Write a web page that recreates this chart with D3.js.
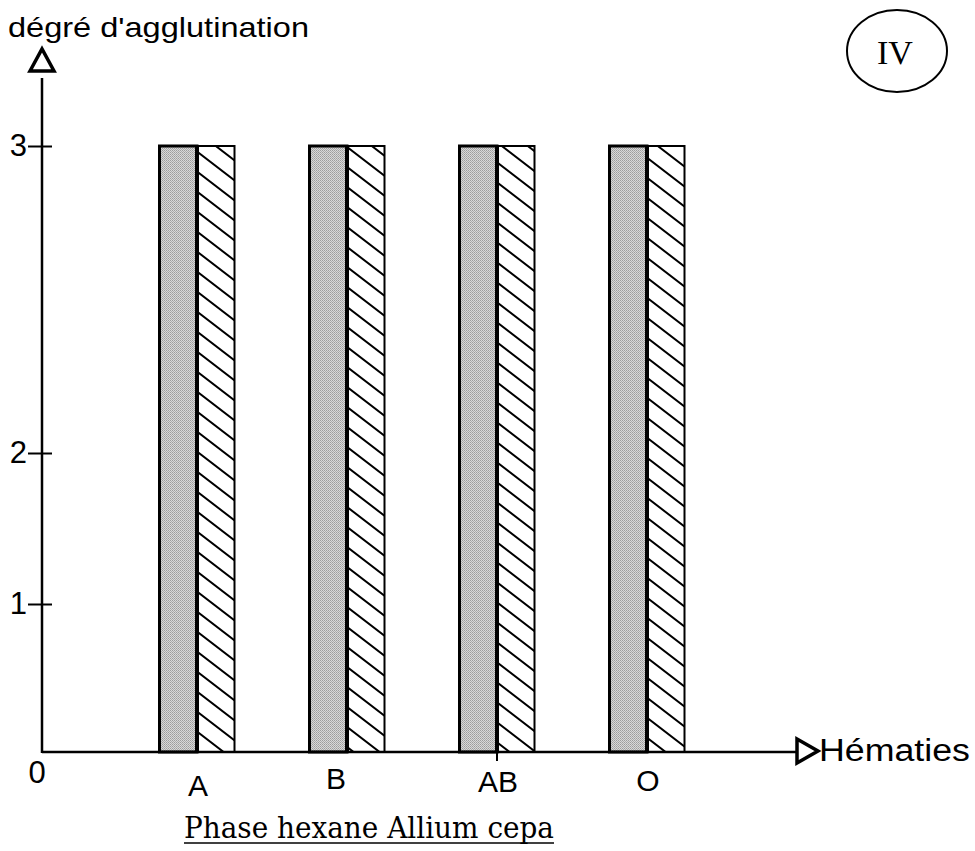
<!DOCTYPE html>
<html><head><meta charset="utf-8">
<script src="https://cdn.jsdelivr.net/npm/d3@7"></script>
<style>html,body{margin:0;padding:0;background:#fff;}svg{display:block;}</style>
</head><body>
<script>
const categories = ["A", "B", "AB", "O"];
const grayValues = [3, 3, 3, 3];
const hatchedValues = [3, 3, 3, 3];
const yTicks = [1, 2, 3];
const yAxisTitle = "dégré d'agglutination";
const xAxisTitle = "Hématies";
const chartTitle = "Phase hexane Allium cepa";
const panelLabel = "IV";

const W = 975, H = 851;
const svg = d3.select("body").append("svg").attr("width", W).attr("height", H);
const defs = svg.append("defs");

// stipple gray
const pg = defs.append("pattern").attr("id", "stipple").attr("patternUnits", "userSpaceOnUse")
  .attr("width", 2).attr("height", 2);
pg.append("rect").attr("width", 2).attr("height", 2).attr("fill", "#d8d8d8");
pg.append("rect").attr("width", 1).attr("height", 1).attr("fill", "#9c9c9c");
pg.append("rect").attr("x", 1).attr("y", 1).attr("width", 1).attr("height", 1).attr("fill", "#acacac");

// diagonal hatch (down-right lines, vertical spacing 20)
const hw = 26, hh = 20;
const ph = defs.append("pattern").attr("id", "hatch").attr("patternUnits", "userSpaceOnUse")
  .attr("width", hw).attr("height", hh);
ph.append("rect").attr("width", hw).attr("height", hh).attr("fill", "#fff");
ph.append("path")
  .attr("d", `M-6,${-6 * hh / hw} L${hw + 6},${hh + 6 * hh / hw} M${hw - 6},${-6 * hh / hw} L${hw + 6},${6 * hh / hw} M-6,${hh - 6 * hh / hw} L6,${hh + 6 * hh / hw}`)
  .attr("stroke", "#000").attr("stroke-width", 2).attr("fill", "none");

const x0 = 42, yBase = 752;
const x = d3.scaleBand().domain(categories).range([122, 722]).paddingInner(0.5).paddingOuter(0.25);
const xs = d3.scaleBand().domain(["gray", "hatched"]).range([0, x.bandwidth()]);
const y = d3.scaleLinear().domain([0, 1, 2, 3]).range([yBase, 604, 453, 146]);

const sans = "'Liberation Sans', Arial, Helvetica, sans-serif";
const serif = "'DejaVu Serif', 'Liberation Serif', serif";

// bars
const g = svg.append("g");
categories.forEach((c, i) => {
  g.append("rect").attr("x", x(c) + xs("gray")).attr("y", y(grayValues[i]))
    .attr("width", xs.bandwidth()).attr("height", y(0) - y(grayValues[i]))
    .attr("fill", "url(#stipple)").attr("stroke", "#000").attr("stroke-width", 3);
  g.append("rect").attr("x", x(c) + xs("hatched")).attr("y", y(hatchedValues[i]))
    .attr("width", xs.bandwidth()).attr("height", y(0) - y(hatchedValues[i]))
    .attr("fill", "url(#hatch)").attr("stroke", "#000").attr("stroke-width", 2);
  g.append("line").attr("x1", x(c) + xs("hatched")).attr("x2", x(c) + xs("hatched"))
    .attr("y1", y(hatchedValues[i])).attr("y2", y(0)).attr("stroke", "#000").attr("stroke-width", 4);
});

// y axis
const yAxis = d3.axisLeft(y).tickValues(yTicks).tickSize(0).tickPadding(15).tickFormat(d3.format("d"));
const ya = svg.append("g").attr("transform", `translate(${x0},0)`).call(yAxis);
ya.select(".domain").remove();
ya.selectAll("text").attr("font-family", sans).attr("font-size", 31).attr("fill", "#000");
ya.selectAll(".tick").append("line").attr("x1", -14).attr("x2", 10).attr("stroke", "#000").attr("stroke-width", 2);
svg.append("line").attr("x1", x0).attr("x2", x0).attr("y1", 78).attr("y2", yBase + 1)
  .attr("stroke", "#000").attr("stroke-width", 2.5);
svg.append("path").attr("d", `M${x0 - 12},71 L${x0},49 L${x0 + 12},71 Z`)
  .attr("fill", "none").attr("stroke", "#000").attr("stroke-width", 3.5).attr("stroke-linejoin", "miter");
svg.append("text").attr("x", 8).attr("y", 37).attr("font-family", sans).attr("font-size", 28)
  .attr("textLength", 301).attr("lengthAdjust", "spacingAndGlyphs").text(yAxisTitle);

// x axis
svg.append("line").attr("x1", x0).attr("x2", 797).attr("y1", yBase).attr("y2", yBase)
  .attr("stroke", "#000").attr("stroke-width", 2.5);
svg.append("path").attr("d", `M797,${yBase - 13} L818,${yBase - 1} L797,${yBase + 11} Z`)
  .attr("fill", "none").attr("stroke", "#000").attr("stroke-width", 3.5);
svg.append("text").attr("x", 819).attr("y", yBase + 9).attr("font-family", sans).attr("font-size", 31)
  .attr("textLength", 151).attr("lengthAdjust", "spacingAndGlyphs").text(xAxisTitle);
svg.append("text").attr("x", 37).attr("y", 783).attr("text-anchor", "middle")
  .attr("font-family", sans).attr("font-size", 31).text("0");

const labelY = { "A": 796, "B": 789, "AB": 792, "O": 791 };
const labelDx = { "A": 1, "B": -11, "AB": 1, "O": 1 };
const xa = svg.append("g").attr("transform", `translate(0,${yBase})`)
  .call(d3.axisBottom(x).tickSize(0).tickPadding(0));
xa.select(".domain").remove();
xa.selectAll(".tick text").attr("font-family", sans).attr("font-size", 30).attr("fill", "#000")
  .attr("y", d => labelY[d] - yBase).attr("dy", 0).attr("dx", d => labelDx[d]);
xa.selectAll(".tick").filter(d => d === "AB").append("line")
  .attr("y1", 0).attr("y2", 9).attr("stroke", "#000").attr("stroke-width", 2);

// bottom title underlined
svg.append("text").attr("x", 184).attr("y", 838).attr("font-family", serif)
  .attr("font-size", 29).attr("textLength", 370).attr("lengthAdjust", "spacingAndGlyphs")
  .text(chartTitle);
svg.append("line").attr("x1", 184).attr("x2", 554).attr("y1", 843).attr("y2", 843)
  .attr("stroke", "#000").attr("stroke-width", 1.4);

// panel label
svg.append("ellipse").attr("cx", 897).attr("cy", 51).attr("rx", 50).attr("ry", 41)
  .attr("fill", "none").attr("stroke", "#000").attr("stroke-width", 2);
svg.append("text").attr("x", 895).attr("y", 64).attr("text-anchor", "middle")
  .attr("font-family", "'Liberation Serif', 'DejaVu Serif', serif").attr("font-size", 34).text(panelLabel);
</script>
</body></html>
